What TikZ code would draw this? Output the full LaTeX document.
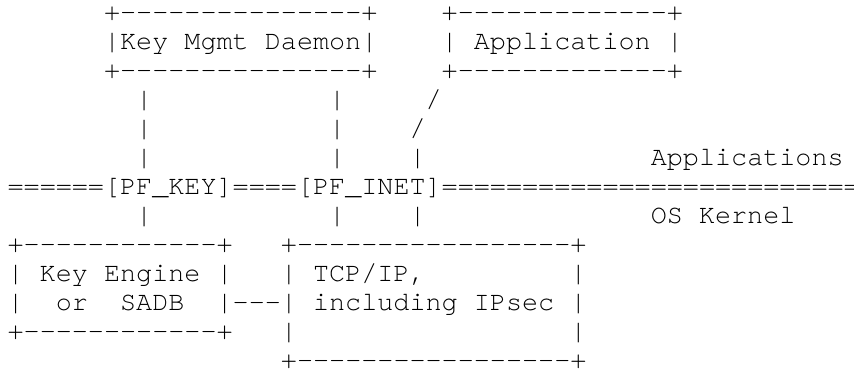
\documentclass[tikz,border=0pt]{standalone}
\usepackage{fontspec}
\newfontfamily\asciifont{texgyrecursor-regular.otf}
\usepackage{tikz}
\tikzset{ascii/.style={anchor=base west, inner sep=0pt, font=\asciifont\fontsize{20.1}{21.75}\selectfont}}

\begin{document}
\begin{tikzpicture}[x=12.06pt, y=-21.75pt]
    \useasboundingbox(-0.456, -0.724)rectangle(52.655, 12.10);
    % user space boxes
    \node[ascii](kmdtop)at(6, 0){+---------------+};
    \node[ascii](kmd)at(6, 1){|Key Mgmt Daemon|};
    \node[ascii](kmdbot)at(6, 2){+---------------+};
    \node[ascii](apptop)at(27, 0){+-------------+};
    \node[ascii](app)at(27, 1){|~Application~|};
    \node[ascii](appbot)at(27, 2){+-------------+};
    % sockets down to the kernel
    \node[ascii](kl3)at(8, 3){|};
    \node[ascii](kl4)at(8, 4){|};
    \node[ascii](kl5)at(8, 5){|};
    \node[ascii](kl7)at(8, 7){|};
    \node[ascii](il3)at(20, 3){|};
    \node[ascii](il4)at(20, 4){|};
    \node[ascii](il5)at(20, 5){|};
    \node[ascii](il7)at(20, 7){|};
    \node[ascii](al3)at(26, 3){/};
    \node[ascii](al4)at(25, 4){/};
    \node[ascii](al5)at(25, 5){|};
    \node[ascii](al7)at(25, 7){|};
    \node[ascii](applab)at(40, 5){Applications};
    \node[ascii](bar)at(0, 6){======[PF\_KEY]====[PF\_INET]==========================};
    \node[ascii](oslab)at(40, 7){OS Kernel};
    % kernel boxes
    \node[ascii](ketop)at(0, 8){+------------+};
    \node[ascii](ke1)at(0, 9){|~Key Engine~|};
    \node[ascii](ke2)at(0, 10){|~~or~~SADB~~|};
    \node[ascii](kebot)at(0, 11){+------------+};
    \node[ascii](link)at(14, 10){---};
    \node[ascii](tcptop)at(17, 8){+-----------------+};
    \node[ascii](tcp1)at(17, 9){|~TCP/IP,~~~~~~~~~|};
    \node[ascii](tcp2)at(17, 10){|~including IPsec~|};
    \node[ascii](tcpl)at(17, 11){|};
    \node[ascii](tcpr)at(35, 11){|};
    \node[ascii](tcpbot)at(17, 12){+-----------------+};
\end{tikzpicture}
\end{document}
